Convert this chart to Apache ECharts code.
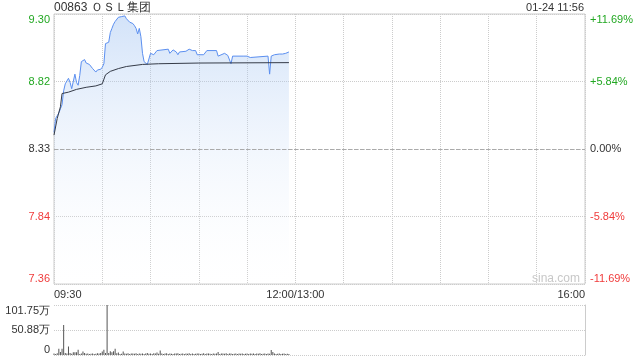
<!DOCTYPE html>
<html>
<head>
<meta charset="utf-8">
<script src="https://cdn.jsdelivr.net/npm/echarts@6/dist/echarts.min.js"></script>
<style>html,body{margin:0;padding:0;background:#fff;}#c{width:640px;height:360px;}</style>
</head>
<body>
<div id="c"></div>
<script>
var stockTitle = '00863 ＯＳＬ集团';
var stamp = '01-24 11:56';
var preClose = 8.33;

// minute offsets from 09:30 (0..330) and prices
var priceMinutes = [0,1,2,3,4,5,6,7,8,9,10,11,12,13,14,15,16,17,18,19,20,21,22,23,24,25,26,27,28,29,30,31,32,33,34,35,36,37,38,39,40,41,42,43,44,45,46,47,48,49,50,51,52,53,54,55,56,57,58,59,60,61,62,63,64,65,71,72,73,74,75,76,77,78,82,84,86,88,89,93,95,101,102,106,108,109,110,111,118,119,120,122,123,133,134,135,137,140,142,144,146];
var priceValues  = [8.45,8.55,8.57,8.59,8.62,8.65,8.75,8.80,8.81,8.84,8.81,8.765,8.77,8.87,8.81,8.79,8.86,8.96,8.97,8.975,8.95,8.95,8.94,8.93,8.91,8.90,8.885,8.90,8.91,8.905,8.92,8.945,9.09,9.10,9.10,9.17,9.20,9.23,9.25,9.255,9.28,9.28,9.285,9.28,9.29,9.27,9.27,9.245,9.24,9.235,9.22,9.20,9.16,9.20,9.14,9.02,8.96,8.955,8.94,8.95,9.02,9.02,9.01,9.00,9.04,9.05,9.05,9.02,9.03,9.045,9.04,9.03,9.01,9.03,9.035,9.05,9.04,9.04,9.01,9.01,9.04,9.04,9.00,9.02,9.005,9.00,8.945,9.00,9.00,8.99,9.00,8.99,9.00,9.00,8.87,9.00,9.01,9.015,9.015,9.02,9.03];

var avgMinutes = [0,2,4,5,9,14,20,26,30,31,32,35,40,45,55,65,90,146];
var avgValues  = [8.43,8.55,8.635,8.73,8.74,8.76,8.775,8.785,8.80,8.81,8.865,8.89,8.91,8.925,8.94,8.945,8.95,8.953];

// volume per minute (shares), minute 0..146
var volumeValues = [30000,21000,35000,125000,60000,125000,610000,42000,30000,174000,
  42000,25000,56000,56000,56000,105000,21000,30000,70000,42000,
  25000,30000,20000,25000,30000,20000,25000,35000,30000,40000,
  70000,105000,40000,1017500,42000,77000,56000,77000,125000,35000,
  49000,20000,25000,70000,30000,25000,35000,22000,30000,28000,
  25000,35000,20000,30000,25000,32000,22000,28000,40000,25000,
  30000,22000,35000,28000,49000,25000,90000,30000,22000,28000,
  35000,20000,30000,25000,22000,30000,28000,35000,20000,25000,
  30000,22000,28000,25000,35000,20000,30000,22000,25000,28000,
  30000,20000,25000,35000,22000,28000,30000,25000,20000,28000,
  25000,30000,61000,22000,28000,30000,25000,35000,20000,28000,
  30000,22000,25000,30000,20000,28000,25000,32000,22000,25000,
  30000,20000,28000,25000,30000,22000,28000,25000,35000,20000,
  25000,30000,22000,28000,25000,102000,61000,30000,22000,25000,
  28000,20000,25000,30000,22000,25000,20000];

var xLabelMinutes = [0,150,330];
var xLabelTexts = ['09:30','12:00/13:00','16:00'];
var priceTickLabels = ['7.36','7.84','8.33','8.82','9.30'];
var pctTickLabels = ['-11.69%','-5.84%','0.00%','+5.84%','+11.69%'];
var pctMax = 11.69;
var volTickLabels = ['0','50.88万','101.75万'];
var volMax = 1017500;

function toPct(p){ return (p/preClose - 1) * 100; }
var pricePts = priceMinutes.map(function(m,i){ return [m, toPct(priceValues[i])]; });
var avgPts = avgMinutes.map(function(m,i){ return [m, toPct(avgValues[i])]; });
var volPts = volumeValues.map(function(v,i){ return [i, v]; });

var font = 'Arial, "Liberation Sans", sans-serif';
var GREEN = '#22a822', RED = '#f03c3c', DARK = '#333';
function tickIdx(v){ return Math.round((parseFloat(v) + pctMax) / (pctMax/2)); }
function tickColor(v){ var k = tickIdx(v); return k > 2 ? GREEN : (k < 2 ? RED : DARK); }

var chart = echarts.init(document.getElementById('c'), null, {renderer:'canvas'});
chart.setOption({
  animation: false,
  backgroundColor: '#fff',
  title: [
    {text: stockTitle, left: 54, top: 2, padding: 0, textStyle: {fontSize: 12, fontWeight: 'normal', color: '#333', fontFamily: font}},
    {text: stamp, right: 56, top: 2, padding: 0, textStyle: {fontSize: 11, fontWeight: 'normal', color: '#333', fontFamily: font}}
  ],
  graphic: [
    {type: 'text', left: 532, top: 273, style: {text: 'sina.com', fill: '#c8c8c8', font: '12px ' + font}}
  ],
  grid: [
    {left: 54, top: 14, width: 531, height: 270, show: true, borderColor: '#ccc', borderWidth: 1, backgroundColor: 'transparent'},
    {left: 54, top: 305, width: 531, height: 50, show: false}
  ],
  xAxis: [
    {type: 'value', gridIndex: 0, min: 0, max: 330, interval: 30,
     axisLine: {show: false}, axisTick: {show: false},
     splitLine: {show: true, lineStyle: {type: 'dotted', color: '#ccc'}},
     axisLabel: {show: true, margin: 5, fontSize: 11, color: '#333', fontFamily: font,
       alignMinLabel: 'left', alignMaxLabel: 'right',
       formatter: function(v){ var k = xLabelMinutes.indexOf(Math.round(v)); return k >= 0 ? xLabelTexts[k] : ''; }}},
    {type: 'value', gridIndex: 1, min: 0, max: 330, interval: 30,
     axisLine: {show: false}, axisTick: {show: false}, axisLabel: {show: false}, splitLine: {show: false}}
  ],
  yAxis: [
    {type: 'value', gridIndex: 0, min: -pctMax, max: pctMax, interval: pctMax/2,
     axisLine: {show: false}, axisTick: {show: false},
     splitLine: {show: true, lineStyle: {type: 'dotted', color: '#ccc'}},
     axisLabel: {margin: 4, fontSize: 11, fontFamily: font,
       verticalAlignMaxLabel: 'top', verticalAlignMinLabel: 'bottom',
       color: function(v){ return tickColor(v); },
       formatter: function(v){ return priceTickLabels[tickIdx(v)]; }}},
    {type: 'value', gridIndex: 0, position: 'right', min: -pctMax, max: pctMax, interval: pctMax/2,
     axisLine: {show: false}, axisTick: {show: false}, splitLine: {show: false},
     axisLabel: {margin: 5, fontSize: 11, fontFamily: font,
       verticalAlignMaxLabel: 'top', verticalAlignMinLabel: 'bottom',
       color: function(v){ return tickColor(v); },
       formatter: function(v){ return pctTickLabels[tickIdx(v)]; }}},
    {type: 'value', gridIndex: 1, min: 0, max: volMax, interval: volMax/2,
     axisLine: {show: false}, axisTick: {show: false},
     splitLine: {show: true, lineStyle: {type: 'dotted', color: '#ccc'}},
     axisLabel: {margin: 4, fontSize: 11, color: '#333', fontFamily: font,
       verticalAlignMaxLabel: 'top', verticalAlignMinLabel: 'bottom',
       formatter: function(v){ return volTickLabels[Math.round(v/(volMax/2))]; }}},
    {type: 'value', gridIndex: 1, position: 'right', min: 0, max: volMax,
     axisLine: {show: true, lineStyle: {color: '#ccc'}}, axisTick: {show: false},
     axisLabel: {show: false}, splitLine: {show: false}}
  ],
  series: [
    {type: 'line', xAxisIndex: 0, yAxisIndex: 0, data: pricePts, showSymbol: false, symbol: 'none',
     lineStyle: {color: '#5b8ff0', width: 1},
     areaStyle: {origin: 'start', color: new echarts.graphic.LinearGradient(0,0,0,1,[
       {offset: 0, color: 'rgba(150,188,240,0.6)'},
       {offset: 1, color: 'rgba(255,255,255,0.1)'}])},
     markLine: {silent: true, symbol: 'none', label: {show: false},
       lineStyle: {type: 'dashed', color: '#aaa', width: 1}, data: [{yAxis: 0}]},
     z: 3},
    {type: 'line', xAxisIndex: 0, yAxisIndex: 0, data: avgPts, showSymbol: false, symbol: 'none',
     lineStyle: {color: '#353b48', width: 1}, z: 4},
    {type: 'bar', xAxisIndex: 1, yAxisIndex: 2, data: volPts, barWidth: 1,
     itemStyle: {color: '#555'}}
  ]
});
</script>
</body>
</html>
